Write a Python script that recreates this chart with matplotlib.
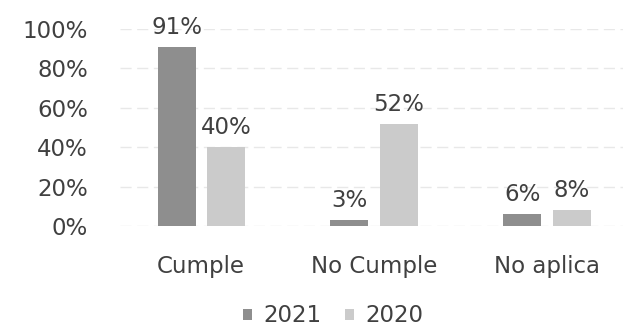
import numpy as np
import matplotlib
matplotlib.use('Agg')
import matplotlib.pyplot as plt

# Datos
categorias = ['Cumple', 'No Cumple', 'No aplica']
valores_2021 = [91, 3, 6]
valores_2020 = [40, 52, 8]
ticks_y = [0, 20, 40, 60, 80, 100]

color_2021 = '#8e8e8e'
color_2020 = '#cbcbcb'
texto = '#404040'
fs = 16.5

fig = plt.figure(figsize=(6.23, 3.30), dpi=100)
ax = fig.add_axes([120 / 623, 104 / 330, 503 / 623, 197 / 330])

x = np.arange(len(categorias))
ancho = 0.22
desp = 0.143

b1 = ax.bar(x - desp, valores_2021, ancho, color=color_2021, label='2021')
b2 = ax.bar(x + desp, valores_2020, ancho, color=color_2020, label='2020')

for barras, vals in ((b1, valores_2021), (b2, valores_2020)):
    for b, v in zip(barras, vals):
        ax.text(b.get_x() + b.get_width() / 2, v + 4, f'{v}%', ha='center', va='bottom',
                fontsize=fs, color=texto)

ax.set_xlim(-0.47, 2.44)
ax.set_ylim(0, 100)
ax.set_yticks(ticks_y)
ax.set_yticklabels([f'{t}%' for t in ticks_y])
ax.set_xticks(x)
ax.set_xticklabels(categorias)
ax.tick_params(axis='both', length=0, labelsize=fs, labelcolor=texto)
ax.tick_params(axis='y', pad=23)
ax.tick_params(axis='x', pad=21)
ax.yaxis.grid(True, color='#e8e8e8', linewidth=1, linestyle=(0, (8, 4)))
ax.set_axisbelow(True)
for s in ax.spines.values():
    s.set_visible(False)

fig.legend(handles=[b1, b2], labels=['2021', '2020'], loc='center', bbox_to_anchor=(333 / 623, 14 / 330),
           ncol=2, frameon=False, fontsize=fs, labelcolor=texto, handlelength=0.4, handleheight=0.4,
           handletextpad=0.5, columnspacing=1.0)

fig.savefig('out.png', dpi=100, facecolor='white')
